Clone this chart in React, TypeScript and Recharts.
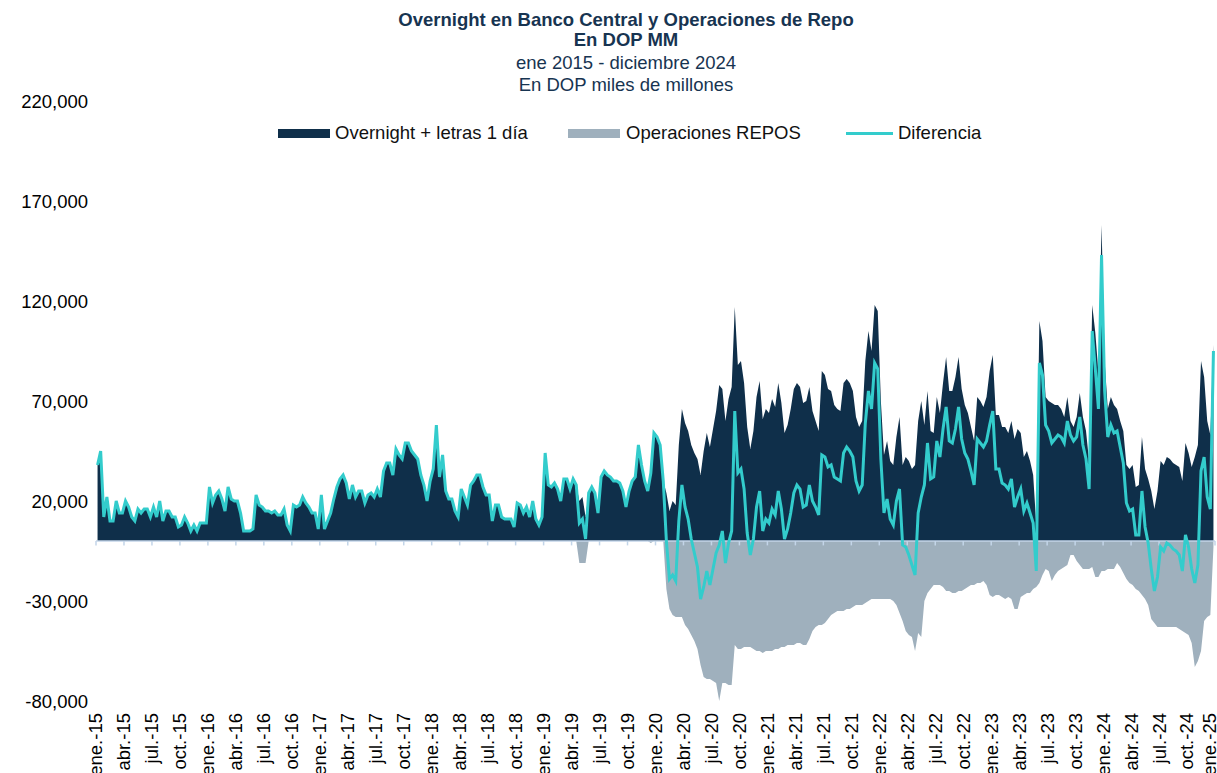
import React from "react";
import {
  Area,
  ComposedChart,
  Line,
  ReferenceLine,
  XAxis,
  YAxis,
} from "recharts";

// Values in thousands of DOP MM, three readings per month (early / mid / late).
const overnight2015 = [38, 45, 12, 22, 10, 10, 20, 14, 14, 20, 17, 12, 10, 16, 14, 16, 16, 12, 17, 12, 20, 10, 15, 15, 12, 12, 7, 8, 12, 9, 5, 8, 5, 9, 9, 9];
const overnight2016 = [27, 19, 23, 25, 21, 15, 27, 21, 20, 20, 14, 5, 5, 5, 6, 23, 18, 17, 15, 15, 14, 15, 13, 13, 16, 8, 5, 18, 17, 18, 22, 19, 17, 14, 14, 6];
const overnight2017 = [23, 6, 10, 14, 21, 27, 31, 33, 29, 21, 28, 22, 25, 25, 19, 23, 24, 22, 26, 22, 35, 39, 39, 33, 46, 43, 41, 49, 49, 45, 43, 41, 33, 28, 20, 30];
const overnight2018 = [36, 58, 32, 43, 25, 21, 21, 15, 12, 26, 22, 18, 28, 30, 33, 33, 27, 23, 23, 10, 18, 18, 12, 11, 11, 11, 7, 19, 18, 14, 17, 12, 20, 11, 8, 12];
const overnight2019 = [44, 28, 27, 29, 26, 20, 31, 31, 26, 31, 28, 20, 22, 12, 24, 27, 24, 14, 32, 35, 33, 32, 30, 30, 29, 25, 17, 25, 30, 32, 48, 38, 30, 25, 35, 54];
const overnight2020 = [52, 48, 30, 24, 15, 20, 18, 48, 66, 59, 55, 48, 44, 41, 33, 45, 54, 47, 56, 65, 78, 76, 60, 71, 77, 117, 88, 90, 79, 57, 46, 55, 72, 80, 61, 66];
const overnight2021 = [64, 71, 67, 79, 69, 54, 58, 66, 76, 79, 77, 69, 70, 77, 65, 60, 55, 85, 83, 76, 75, 68, 66, 65, 79, 81, 79, 75, 62, 57, 60, 90, 105, 95, 118, 115];
const overnight2022 = [70, 43, 50, 40, 38, 52, 62, 38, 42, 40, 36, 38, 60, 70, 58, 75, 55, 54, 72, 64, 79, 92, 75, 75, 82, 92, 76, 68, 64, 57, 50, 72, 70, 67, 72, 85];
const overnight2023 = [93, 63, 63, 57, 57, 54, 60, 51, 56, 54, 42, 45, 40, 33, 8, 110, 100, 72, 70, 69, 68, 68, 66, 62, 72, 60, 57, 62, 74, 62, 55, 40, 118, 104, 84, 158];
const overnight2024 = [90, 66, 72, 68, 66, 60, 55, 38, 36, 38, 27, 28, 52, 36, 31, 25, 16, 25, 40, 38, 42, 41, 39, 38, 37, 30, 49, 44, 37, 42, 48, 90, 82, 60, 53, 98];

const repos2015 = [0, 0, 0, 0, 0, 0, 0, 0, 0, 0, 0, 0, 0, 0, 0, 0, 0, 0, 0, 0, 0, 0, 0, 0, 0, 0, 0, 0, 0, 0, 0, 0, 0, 0, 0, 0];
const repos2016 = [0, 0, 0, 0, 0, 0, 0, 0, 0, 0, 0, 0, 0, 0, 0, 0, 0, 0, 0, 0, 0, 0, 0, 0, 0, 0, 0, 0, 0, 0, 0, 0, 0, 0, 0, 0];
const repos2017 = [0, 0, 0, 0, 0, 0, 0, 0, 0, 0, 0, 0, 0, 0, 0, 0, 0, 0, 0, 0, 0, 0, 0, 0, 0, 0, 0, 0, 0, 0, 0, 0, 0, 0, 0, 0];
const repos2018 = [0, 0, 0, 0, 0, 0, 0, 0, 0, 0, 0, 0, 0, 0, 0, 0, 0, 0, 0, 0, 0, 0, 0, 0, 0, 0, 0, 0, 0, 0, 0, 0, 0, 0, 0, 0];
const repos2019 = [0, 0, 0, 0, 0, 0, 0, 0, 0, 0, 0, -11, -11, -11, 0, 0, 0, 0, 0, 0, 0, 0, 0, 0, 0, 0, 0, 0, 0, 0, 0, 0, 0, 0, -1, 0];
const repos2020 = [0, 0, 0, -24, -34, -37, -38, -38, -38, -42, -44, -47, -50, -54, -62, -68, -69, -69, -70, -71, -80, -71, -71, -72, -72, -52, -54, -54, -53, -53, -53, -54, -55, -55, -56, -55];
const repos2021 = [-55, -55, -54, -54, -53, -53, -52, -52, -52, -51, -51, -52, -52, -49, -45, -43, -42, -42, -41, -39, -37, -36, -35, -35, -35, -34, -34, -33, -32, -32, -32, -31, -30, -29, -29, -29];
const repos2022 = [-29, -29, -29, -29, -30, -32, -36, -40, -45, -47, -48, -55, -46, -48, -30, -26, -24, -22, -22, -22, -23, -25, -25, -26, -26, -25, -25, -24, -23, -22, -22, -21, -21, -20, -22, -27];
const repos2023 = [-28, -27, -27, -28, -29, -28, -29, -34, -34, -28, -27, -26, -26, -24, -23, -21, -17, -14, -15, -20, -17, -15, -14, -13, -12, -7, -7, -10, -12, -14, -14, -14, -13, -18, -18, -15];
const repos2024 = [-15, -14, -14, -14, -11, -13, -16, -19, -21, -22, -24, -25, -27, -29, -32, -39, -41, -43, -43, -43, -43, -43, -43, -43, -44, -45, -46, -47, -51, -63, -60, -55, -40, -38, -37, -3];

const OVERNIGHT = [overnight2015, overnight2016, overnight2017, overnight2018, overnight2019, overnight2020, overnight2021, overnight2022, overnight2023, overnight2024];
const REPOS = [repos2015, repos2016, repos2017, repos2018, repos2019, repos2020, repos2021, repos2022, repos2023, repos2024];

const TICK_LABELS = [
  "ene.-15", "abr.-15", "jul.-15", "oct.-15",
  "ene.-16", "abr.-16", "jul.-16", "oct.-16",
  "ene.-17", "abr.-17", "jul.-17", "oct.-17",
  "ene.-18", "abr.-18", "jul.-18", "oct.-18",
  "ene.-19", "abr.-19", "jul.-19", "oct.-19",
  "ene.-20", "abr.-20", "jul.-20", "oct.-20",
  "ene.-21", "abr.-21", "jul.-21", "oct.-21",
  "ene.-22", "abr.-22", "jul.-22", "oct.-22",
  "ene.-23", "abr.-23", "jul.-23", "oct.-23",
  "ene.-24", "abr.-24", "jul.-24", "oct.-24",
  "ene.-25",
];
const Y_TICKS = [-80000, -30000, 20000, 70000, 120000, 170000, 220000];

const NAVY = "#0f2f4a";
const GREY = "#9fb0bd";
const TEAL = "#33cccc";
const AXIS = "#c3d5e8";
const FONT = "'Liberation Sans', Arial, sans-serif";

// x = months since Jan 2015; diferencia = overnight + repos (repos are negative)
const data = OVERNIGHT.flatMap((year, yi) =>
  year.map((v, i) => ({
    t: yi * 12 + i / 3 + 1 / 6,
    overnight: v * 1000,
    repos: REPOS[yi][i] * 1000,
    diferencia: (v + REPOS[yi][i]) * 1000,
  }))
);

const quarterTicks = TICK_LABELS.map((_, i) => i * 3);

function RotatedTick(props: any) {
  const { y, payload } = props;
  // keep the last label inside the picture, as the original does
  const x = Math.min(props.x, 1202);
  const label = TICK_LABELS[Math.round(payload.value / 3)];
  return (
    <text
      x={x}
      y={y}
      dy="0.35em"
      transform={`rotate(-90, ${x}, ${y})`}
      textAnchor="end"
      fontSize={18.5}
      fontFamily={FONT}
      fill="#000"
    >
      {label}
    </text>
  );
}

const titleLine = (top: number, bold: boolean): React.CSSProperties => ({
  position: "absolute",
  left: 0,
  width: 1236,
  top,
  textAlign: "center",
  fontSize: 18.5,
  lineHeight: "20px",
  fontWeight: bold ? 700 : 400,
  color: "#173451",
  whiteSpace: "nowrap",
});

const legendText = (left: number): React.CSSProperties => ({
  position: "absolute",
  left,
  top: 115,
  fontSize: 18.5,
  lineHeight: "20px",
  color: "#111",
  whiteSpace: "nowrap",
});

export default function App() {
  return (
    <div
      style={{
        position: "fixed",
        left: 8,
        top: 8,
        width: 1209,
        height: 765,
        overflow: "hidden",
        fontFamily: FONT,
        background: "#fff",
      }}
    >
      <div style={titleLine(2, true)}>Overnight en Banco Central y Operaciones de Repo</div>
      <div style={titleLine(22, true)}>En DOP MM</div>
      <div style={titleLine(45, false)}>ene 2015 - diciembre 2024</div>
      <div style={titleLine(67, false)}>En DOP miles de millones</div>

      <div style={{ position: "absolute", left: 270, top: 121, width: 52, height: 9, background: NAVY }} />
      <div style={legendText(327)}>Overnight + letras 1 día</div>
      <div style={{ position: "absolute", left: 560, top: 121, width: 52, height: 9, background: GREY }} />
      <div style={legendText(618)}>Operaciones REPOS</div>
      <div style={{ position: "absolute", left: 838, top: 124, width: 47, height: 3, background: TEAL }} />
      <div style={legendText(890)}>Diferencia</div>

      <ComposedChart
        width={1209}
        height={765}
        data={data}
        margin={{ top: 93, right: 2, bottom: 0, left: 0 }}
        style={{ position: "absolute", left: 0, top: 0 }}
      >
        <XAxis
          dataKey="t"
          type="number"
          domain={[0, 120]}
          ticks={quarterTicks}
          interval={0}
          axisLine={false}
          tickLine={false}
          tickSize={6}
          tickMargin={6}
          height={72}
          tick={<RotatedTick />}
        />
        <YAxis
          type="number"
          domain={[-80000, 220000]}
          ticks={Y_TICKS}
          interval={0}
          width={88}
          axisLine={false}
          tickLine={false}
          tickFormatter={(v: number) => v.toLocaleString("en-US")}
          tick={{ fontSize: 18.5, fill: "#000", fontFamily: FONT }}
        />
        <Area
          type="linear"
          dataKey="overnight"
          baseValue={0}
          fill={NAVY}
          fillOpacity={1}
          stroke="none"
          isAnimationActive={false}
        />
        <Area
          type="linear"
          dataKey="repos"
          baseValue={0}
          fill={GREY}
          fillOpacity={1}
          stroke="none"
          isAnimationActive={false}
        />
        <ReferenceLine y={0} stroke={AXIS} strokeWidth={1.5} />
        {quarterTicks.map((t) => (
          <ReferenceLine
            key={t}
            segment={[
              { x: t, y: 0 },
              { x: t, y: -2200 },
            ]}
            stroke={AXIS}
            strokeWidth={1.5}
          />
        ))}
        <Line
          type="linear"
          dataKey="diferencia"
          stroke={TEAL}
          strokeWidth={3}
          dot={false}
          activeDot={false}
          isAnimationActive={false}
        />
      </ComposedChart>
    </div>
  );
}
